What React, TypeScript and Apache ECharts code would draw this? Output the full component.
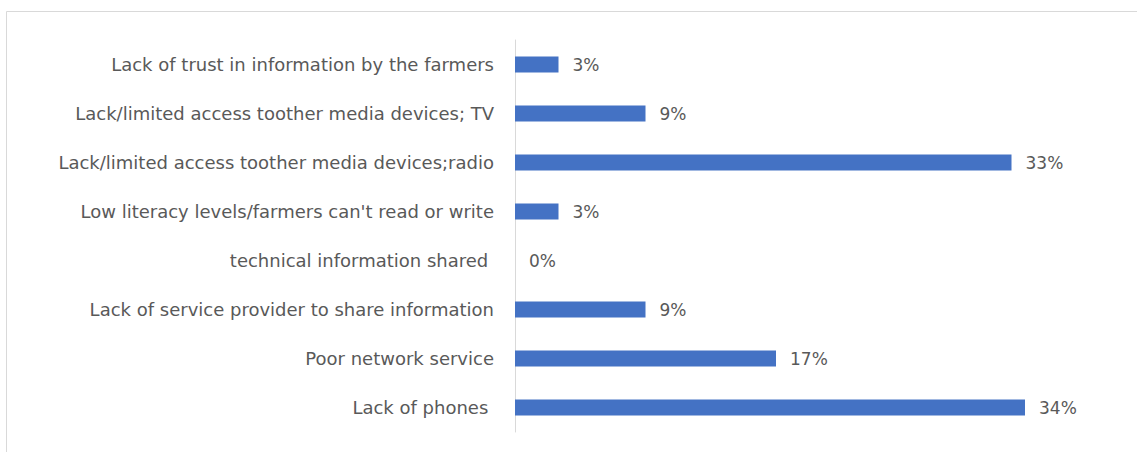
import React, { useEffect, useRef } from "react";
import * as echarts from "echarts";

const categories = [
  "Lack of trust in information by the farmers",
  "Lack/limited access toother media devices; TV",
  "Lack/limited access toother media devices;radio",
  "Low literacy levels/farmers can't read or write",
  "technical information shared ",
  "Lack of service provider to share information",
  "Poor network service",
  "Lack of phones ",
];
const values = [2.9, 8.7, 33.1, 2.9, 0, 8.7, 17.4, 34.0];

export default function App() {
  const ref = useRef<HTMLDivElement>(null);
  useEffect(() => {
    if (!ref.current) return;
    const chart = echarts.init(ref.current, undefined, { renderer: "svg" });
    const font = "'DejaVu Sans', Verdana, sans-serif";
    chart.setOption({
      animation: false,
      backgroundColor: "#ffffff",
      graphic: [
        {
          type: "rect",
          shape: { x: 6.5, y: 11.5, width: 1200, height: 600 },
          style: { fill: "none", stroke: "#d9d9d9", lineWidth: 1 },
          silent: true,
        },
      ],
      grid: { left: 515, top: 40, width: 600, height: 392 },
      xAxis: {
        type: "value",
        min: 0,
        max: 40,
        show: false,
      },
      yAxis: {
        type: "category",
        data: categories,
        inverse: true,
        axisLine: { show: true, lineStyle: { color: "#d9d9d9", width: 1 } },
        axisTick: { show: false },
        axisLabel: {
          color: "#595959",
          fontSize: 18,
          fontFamily: font,
          margin: 21,
        },
      },
      series: [
        {
          type: "bar",
          data: values,
          barWidth: 16,
          itemStyle: { color: "#4472C4" },
          label: {
            show: true,
            position: "right",
            distance: 14,
            color: "#595959",
            fontSize: 17,
            fontFamily: font,
            formatter: (p: any) => Math.round(p.value) + "%",
          },
        },
      ],
    });
    return () => chart.dispose();
  }, []);
  return (
    <div
      ref={ref}
      style={{ position: "absolute", left: 0, top: 0, width: 1137, height: 452 }}
    />
  );
}
